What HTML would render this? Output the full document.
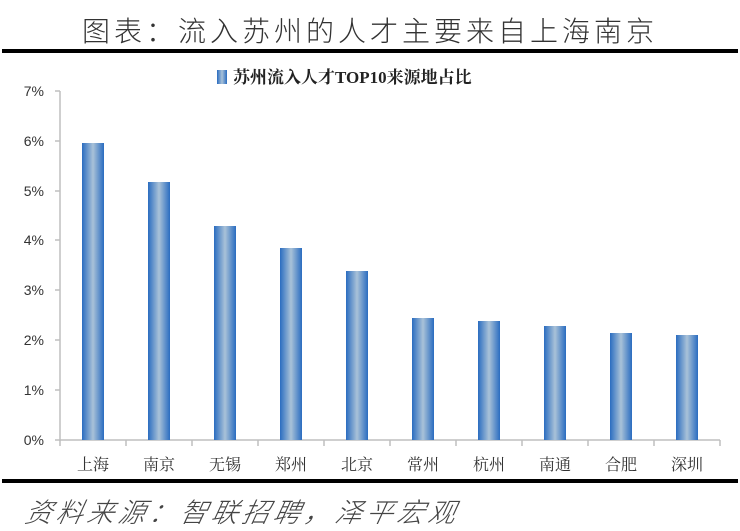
<!DOCTYPE html>
<html><head><meta charset="utf-8"><style>
body{margin:0;background:#fff;}
.wrap{position:relative;width:740px;height:531px;overflow:hidden;background:#fff;}
.t{position:absolute;left:0;width:740px;text-align:center;top:10px;font:300 28px "Liberation Sans","Noto Sans CJK SC",sans-serif;letter-spacing:4px;color:#333;}
.src{position:absolute;left:22px;top:491px;font:300 27px "Liberation Sans","Noto Sans CJK SC",sans-serif;letter-spacing:4px;color:#444;font-style:italic;transform:skewX(-12deg);transform-origin:left bottom;}
</style></head><body><div class="wrap">
<div class="t">图表：流入苏州的人才主要来自上海南京</div>
<svg width="740" height="531" style="position:absolute;left:0;top:0">
<defs><linearGradient id="g" x1="0" x2="1" y1="0" y2="0">
<stop offset="0" stop-color="#2a6cc0"/><stop offset="0.5" stop-color="#a9c2d8"/><stop offset="1" stop-color="#2a6cc0"/></linearGradient></defs>
<rect x="2" y="49" width="736" height="4" fill="#000"/>
<rect x="2" y="479" width="736" height="4" fill="#000"/>
<rect x="217" y="70" width="10" height="14" fill="url(#g)"/>
<text x="233" y="83" font-family="Liberation Serif,Noto Serif CJK SC,serif" font-weight="bold" font-size="17" fill="#222">苏州流入人才TOP10来源地占比</text>
<g stroke="#bfbfbf" stroke-width="1.5" fill="none">
<line x1="60" y1="91" x2="60" y2="441"/>
<line x1="60" y1="440" x2="720" y2="440"/>
<line x1="55" y1="91" x2="60" y2="91"/><line x1="55" y1="141" x2="60" y2="141"/><line x1="55" y1="191" x2="60" y2="191"/><line x1="55" y1="240" x2="60" y2="240"/><line x1="55" y1="290" x2="60" y2="290"/><line x1="55" y1="340" x2="60" y2="340"/><line x1="55" y1="390" x2="60" y2="390"/><line x1="55" y1="440" x2="60" y2="440"/>
<line x1="60" y1="440" x2="60" y2="446"/><line x1="126" y1="440" x2="126" y2="446"/><line x1="192" y1="440" x2="192" y2="446"/><line x1="258" y1="440" x2="258" y2="446"/><line x1="324" y1="440" x2="324" y2="446"/><line x1="390" y1="440" x2="390" y2="446"/><line x1="456" y1="440" x2="456" y2="446"/><line x1="522" y1="440" x2="522" y2="446"/><line x1="588" y1="440" x2="588" y2="446"/><line x1="654" y1="440" x2="654" y2="446"/><line x1="720" y1="440" x2="720" y2="446"/>
</g>
<g font-family="Liberation Sans,sans-serif" font-size="14" fill="#333" text-anchor="end">
<text x="44" y="96">7%</text><text x="44" y="146">6%</text><text x="44" y="196">5%</text><text x="44" y="245">4%</text><text x="44" y="295">3%</text><text x="44" y="345">2%</text><text x="44" y="395">1%</text><text x="44" y="445">0%</text>
</g>
<g fill="url(#g)">
<rect x="82" y="143" width="22" height="297"/>
<rect x="148" y="182" width="22" height="258"/>
<rect x="214" y="226" width="22" height="214"/>
<rect x="280" y="248" width="22" height="192"/>
<rect x="346" y="271" width="22" height="169"/>
<rect x="412" y="318" width="22" height="122"/>
<rect x="478" y="321" width="22" height="119"/>
<rect x="544" y="326" width="22" height="114"/>
<rect x="610" y="333" width="22" height="107"/>
<rect x="676" y="335" width="22" height="105"/>
</g>
<g font-family="Noto Serif CJK SC,serif" font-size="16" fill="#333" text-anchor="middle">
<text x="93" y="470">上海</text><text x="159" y="470">南京</text><text x="225" y="470">无锡</text><text x="291" y="470">郑州</text><text x="357" y="470">北京</text><text x="423" y="470">常州</text><text x="489" y="470">杭州</text><text x="555" y="470">南通</text><text x="621" y="470">合肥</text><text x="687" y="470">深圳</text>
</g>
</svg>
<div class="src">资料来源：智联招聘，泽平宏观</div>
</div></body></html>
